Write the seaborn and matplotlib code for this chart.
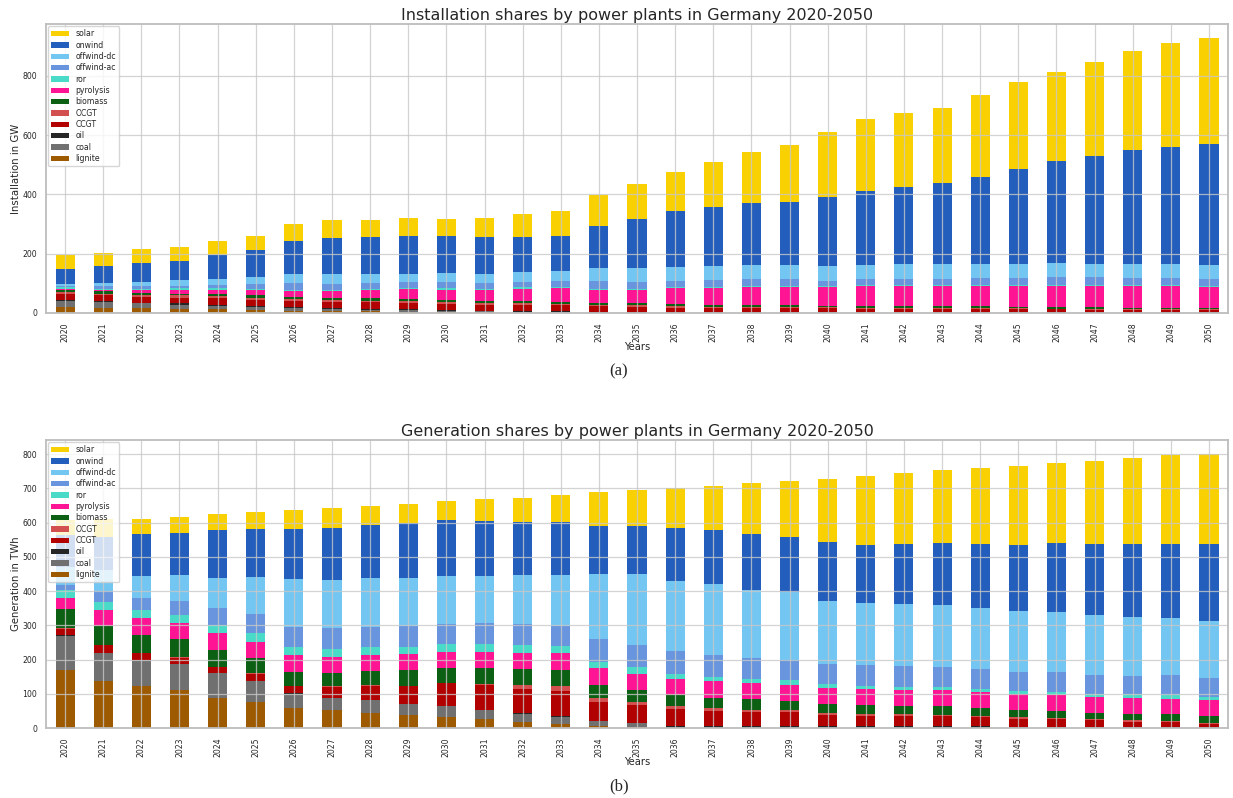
import matplotlib
matplotlib.use("Agg")
import matplotlib.pyplot as plt
import seaborn as sns
import pandas as pd

years = list(range(2020, 2051))
techs = ["solar", "onwind", "offwind-dc", "offwind-ac", "ror", "pyrolysis",
         "biomass", "OCGT", "CCGT", "oil", "coal", "lignite"]
tech_colors = ["#f9d002", "#235ebc", "#74c6f2", "#6895dd", "#4adbc8", "#ff1493",
               "#0c6013", "#d35050", "#b20101", "#262626", "#707070", "#9e5a01"]

# Installed capacity (GW)
inst_solar = [47,47,48,48,50,48,57,60,59,59,57,67,78,85,105,116,132,150,173,194,221,242,247,252,274,292,301,318,334,349,357]
inst_onwind = [50,55,62,65,79,89,113,124,124,128,125,122,118,118,141,165,188,202,209,212,232,250,262,274,294,321,345,364,383,395,409]
inst_offwind_dc = [7,12,15,18,19,25,30,31,31,28,31,32,34,34,45,48,49,47,48,48,50,48,49,49,48,48,47,45,48,48,47]
inst_offwind_ac = [4,8,10,9,13,17,21,20,20,21,20,20,19,20,24,22,20,22,22,22,19,19,20,20,23,23,26,26,23,23,23]
inst_ror = [4,4,4,4,4,4,4,4,4,4,4,4,4,4,4,4,4,4,4,4,4,4,4,4,4,4,4,4,4,4,4]
inst_pyrolysis = [3,5,7,14,16,17,21,24,27,33,36,37,43,46,45,45,54,57,60,61,62,68,68,68,69,70,71,72,74,74,72]
inst_biomass = [8,8,9,6,7,7,7,7,7,7,6,6,6,6,6,7,7,6,6,7,5,5,5,5,5,5,5,5,4,4,4]
inst_ocgt = [6,5,6,7,6,7,6,6,6,6,6,6,6,5,5,5,4,4,4,3,3,3,3,3,3,3,3,3,3,3,3]
inst_ccgt = [21,19,19,20,22,20,21,22,22,22,21,21,21,21,19,19,16,15,15,14,14,13,13,13,12,11,10,9,8,8,7]
inst_oil = [3,4,3,4,3,5,4,3,3,3,3,2,2,2,2,2,2,2,2,2,2,2,2,2,2,2,2,2,2,2,2]
inst_coal = [21,19,16,14,12,9,8,7,6,5,4,3,2.5,2,1,0.5,0,0,0,0,0,0,0,0,0,0,0,0,0,0,0]
inst_lignite = [20,18,16,14,13,11,8,6,5,4,3,2,1.5,1,0.5,0,0,0,0,0,0,0,0,0,0,0,0,0,0,0,0]

# Generation (TWh)
gen_solar = [42,50,45,47,47,49,57,58,56,55,56,63,71,79,99,103,117,129,149,165,185,202,207,212,221,231,235,243,251,259,261]
gen_onwind = [95,97,121,124,139,140,144,154,153,161,161,160,155,154,138,140,155,157,162,160,170,171,175,180,187,194,202,209,214,217,226]
gen_offwind_dc = [52,63,65,76,89,109,140,140,143,141,141,139,144,148,191,209,205,209,200,198,184,181,182,182,178,176,174,173,171,167,165]
gen_offwind_ac = [15,30,36,39,50,56,60,59,58,61,58,61,61,59,66,65,65,62,60,60,59,61,59,57,57,56,59,56,55,59,55]
gen_ror = [22,24,24,24,24,24,24,24,24,22,24,24,22,22,20,18,15,14,14,12,12,9,9,10,10,10,8,9,10,9,11]
gen_pyrolysis = [31,47,48,47,48,49,47,48,47,47,47,47,49,49,49,48,49,47,46,47,47,47,48,48,46,47,47,46,46,46,47]
gen_biomass = [58,55,53,54,49,42,41,38,42,44,44,45,46,46,37,35,31,31,31,28,25,24,24,24,23,21,21,19,20,20,18]
gen_ocgt = [1,1,1,3,1,4,1,1,1,1,1,4,11,15,11,9,9,8,5,6,6,6,4,4,4,4,2,3,3,2,3]
gen_ccgt = [18,22,18,15,16,20,22,33,42,52,65,71,71,74,56,52,49,44,42,40,33,31,31,30,27,23,23,20,16,15,11]
gen_oil = [2,1,1,1,1,1,1,1,1,1,1,1,1,1,1,1,6,6,6,6,6,5,5,5,5,4,4,3,3,3,2]
gen_coal = [102,82,77,77,73,60,41,35,36,31,32,28,25,21,14,12,0,0,0,0,0,0,0,0,0,0,0,0,0,0,0]
gen_lignite = [168,137,122,110,88,76,59,52,45,39,32,25,17,12,6,2,0,0,0,0,0,0,0,0,0,0,0,0,0,0,0]

inst = dict(zip(techs, [inst_solar, inst_onwind, inst_offwind_dc, inst_offwind_ac, inst_ror,
                        inst_pyrolysis, inst_biomass, inst_ocgt, inst_ccgt, inst_oil,
                        inst_coal, inst_lignite]))
gen = dict(zip(techs, [gen_solar, gen_onwind, gen_offwind_dc, gen_offwind_ac, gen_ror,
                       gen_pyrolysis, gen_biomass, gen_ocgt, gen_ccgt, gen_oil,
                       gen_coal, gen_lignite]))


def long_frame(d):
    rows = []
    for t in techs:
        for y, v in zip(years, d[t]):
            rows.append({"year": y, "tech": t, "value": v})
    return pd.DataFrame(rows)


sns.set_style("whitegrid")
plt.rcParams["font.family"] = ["DejaVu Sans"]
plt.rcParams["axes.axisbelow"] = "line"

palette = dict(zip(techs, tech_colors))

fig = plt.figure(figsize=(12.33, 7.98), dpi=100)
ax1 = fig.add_axes([0.0373, 0.6078, 0.9587, 0.3622])
ax2 = fig.add_axes([0.0373, 0.0877, 0.9587, 0.3609])

specs = [
    (ax1, inst, "Installation shares by power plants in Germany 2020-2050", "Installation in GW", 975),
    (ax2, gen, "Generation shares by power plants in Germany 2020-2050", "Generation in TWh", 841),
]

for ax, d, title, ylabel, ymax in specs:
    df = long_frame(d)
    sns.histplot(data=df, x="year", weights="value", hue="tech", hue_order=techs,
                 multiple="stack", discrete=True, shrink=0.5, palette=palette,
                 linewidth=0, alpha=1, ax=ax)
    ax.set_xlim(2019.5, 2050.5)
    ax.set_ylim(0, ymax)
    ax.set_xticks(years)
    ax.set_xticklabels([str(y) for y in years], rotation=90, fontsize=5.6)
    ax.tick_params(axis="y", labelsize=5.6, pad=3)
    ax.set_xlabel("Years", fontsize=7.2, labelpad=0)
    ax.set_ylabel(ylabel, fontsize=7.3, labelpad=1)
    ax.set_title(title, fontsize=11.5, pad=3, color=".15")
    ax.grid(True, color="#c8c8c8", linewidth=0.9, alpha=0.8)
    for s in ax.spines.values():
        s.set_color("#bdbdbd")
        s.set_linewidth(1.3)
    sns.move_legend(ax, "upper left", title=None, fontsize=5.6, frameon=True,
                    handlelength=2.3, labelspacing=0.3, borderaxespad=0.3)

fig.text(0.502, 0.534, "(a)", ha="center", va="center", fontsize=12,
         family=["Liberation Serif", "DejaVu Serif"])
fig.text(0.502, 0.014, "(b)", ha="center", va="center", fontsize=12,
         family=["Liberation Serif", "DejaVu Serif"])

fig.savefig("out.png", dpi=100)
